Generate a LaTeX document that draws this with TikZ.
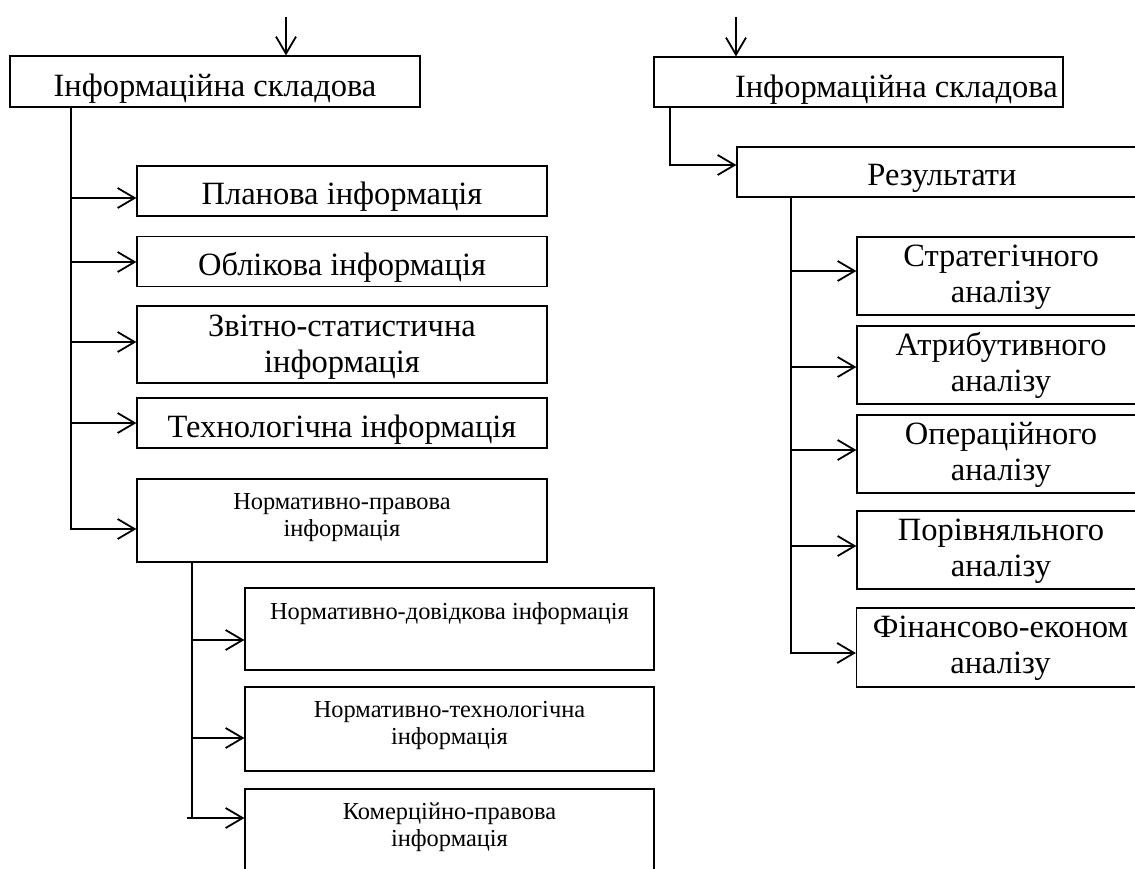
\documentclass[tikz,border=0pt]{standalone}
\usepackage{fontspec}
\setmainfont{Liberation Serif}
\usetikzlibrary{arrows.meta}
\tikzset{
  box/.style={draw, line width=1.2pt, inner sep=0pt},
  txt/.style={inner sep=0pt, anchor=base, align=center,
    font=\fontsize{32.5}{36}\selectfont},
  stxt/.style={txt, font=\fontsize{24.4}{27.5}\selectfont},
  conn/.style={line width=1.8pt},
  arr/.style={conn, -{Straight Barb[length=17pt,width=20pt,line width=1.8pt]}},
}
\begin{document}
\begin{tikzpicture}[x=1pt,y=-1pt]
\useasboundingbox (0,0) rectangle (1135,868);
\clip (0,0) rectangle (1135,868);

% ---------------- left column ----------------
% (for two-line texts the base anchor is the baseline of the last line)
\node[box, minimum width=410pt, minimum height=51pt] (info1) at (215,81.5) {};
\node[txt] (info1t) at ([yshift=-41pt]info1.north) {Інформаційна складова};

\node[box, minimum width=410pt, minimum height=50pt] (plan) at (342,191) {};
\node[txt] (plant) at ([yshift=-39pt]plan.north) {Планова інформація};

\node[box, minimum width=410pt, minimum height=50pt] (obl) at (342,261.5) {};
\node[txt] (oblt) at ([yshift=-40pt]obl.north) {Облікова інформація};

\node[box, minimum width=410pt, minimum height=77pt] (zvit) at (342,344.5) {};
\node[txt] (zvitt) at ([yshift=-67pt]zvit.north) {Звітно-статистична\\інформація};

\node[box, minimum width=410pt, minimum height=50pt] (tech) at (342,423) {};
\node[txt] (techt) at ([yshift=-40pt]tech.north) {Технологічна інформація};

\node[box, minimum width=410pt, minimum height=83pt] (norm) at (342,520.5) {};
\node[stxt] (normt) at ([yshift=-58.5pt]norm.north) {Нормативно-правова\\інформація};

\node[box, minimum width=409pt, minimum height=82pt] (nd) at (449.5,629) {};
\node[stxt] (ndt) at ([yshift=-32pt]nd.north) {Нормативно-довідкова інформація};

\node[box, minimum width=409pt, minimum height=84pt] (nt) at (449.5,729) {};
\node[stxt] (ntt) at ([yshift=-58.5pt]nt.north) {Нормативно-технологічна\\інформація};

\node[box, minimum width=409pt, minimum height=84pt] (kp) at (449.5,831) {};
\node[stxt] (kpt) at ([yshift=-58.5pt]kp.north) {Комерційно-правова\\інформація};

\coordinate (inL) at (286,17);
\draw[arr] (inL) -- (inL |- info1.north);

\coordinate (tL0) at (71,107);
\coordinate (tL5) at (71,529);
\coordinate (bL1) at (71,198);
\coordinate (bL2) at (71,262);
\coordinate (bL3) at (71,342);
\coordinate (bL4) at (71,423);
\draw[arr] (tL0) -- (tL5) -- (tL5 -| norm.west);
\draw[arr] (bL1) -- (bL1 -| plan.west);
\draw[arr] (bL2) -- (bL2 -| obl.west);
\draw[arr] (bL3) -- (bL3 -| zvit.west);
\draw[arr] (bL4) -- (bL4 -| tech.west);

\coordinate (tS0) at (192,562);
\coordinate (tS3) at (192,818);
\coordinate (bS1) at (192,640);
\coordinate (bS2) at (192,738);
\coordinate (bS3) at (187,818);
\draw[conn] (tS0) -- (tS3);
\draw[arr] (bS1) -- (bS1 -| nd.west);
\draw[arr] (bS2) -- (bS2 -| nt.west);
\draw[arr] (bS3) -- (bS3 -| kp.west);

% ---------------- right column ----------------
\node[box, minimum width=409pt, minimum height=50pt] (info2) at (858.5,82) {};
\node[txt, anchor=base east] (info2t) at (1058,97) {Інформаційна складова};

\node[box, minimum width=410pt, minimum height=50pt] (res) at (942,172) {};
\node[txt] (rest) at ([yshift=-39pt]res.north) {Результати};

\node[box, minimum width=288pt, minimum height=78pt] (str) at (1001,276) {};
\node[txt] (strt) at ([yshift=-66pt]str.north) {Стратегічного\\аналізу};

\node[box, minimum width=288pt, minimum height=78pt] (atr) at (1001,365) {};
\node[txt] (atrt) at ([yshift=-66pt]atr.north) {Атрибутивного\\аналізу};

\node[box, minimum width=288pt, minimum height=78pt] (oper) at (1001,454) {};
\node[txt] (opert) at ([yshift=-66pt]oper.north) {Операційного\\аналізу};

\node[box, minimum width=288pt, minimum height=78pt] (por) at (1001,550) {};
\node[txt] (port) at ([yshift=-66pt]por.north) {Порівняльного\\аналізу};

\node[box, minimum width=288pt, minimum height=79pt] (fin) at (1000.5,647.5) {};
\node[txt] (fint) at ([yshift=-66pt]fin.north) {Фінансово-економ\\аналізу};

\coordinate (inR) at (736,17);
\draw[arr] (inR) -- (inR |- info2.north);

\coordinate (tR0) at (670,107);
\coordinate (tR1) at (670,165);
\draw[arr] (tR0) -- (tR1) -- (tR1 -| res.west);

\coordinate (tT0) at (791,197);
\coordinate (tT5) at (791,653);
\coordinate (bT1) at (791,271);
\coordinate (bT2) at (791,367);
\coordinate (bT3) at (791,450);
\coordinate (bT4) at (791,546);
\draw[arr] (tT0) -- (tT5) -- (tT5 -| fin.west);
\draw[arr] (bT1) -- (bT1 -| str.west);
\draw[arr] (bT2) -- (bT2 -| atr.west);
\draw[arr] (bT3) -- (bT3 -| oper.west);
\draw[arr] (bT4) -- (bT4 -| por.west);
\end{tikzpicture}
\end{document}
